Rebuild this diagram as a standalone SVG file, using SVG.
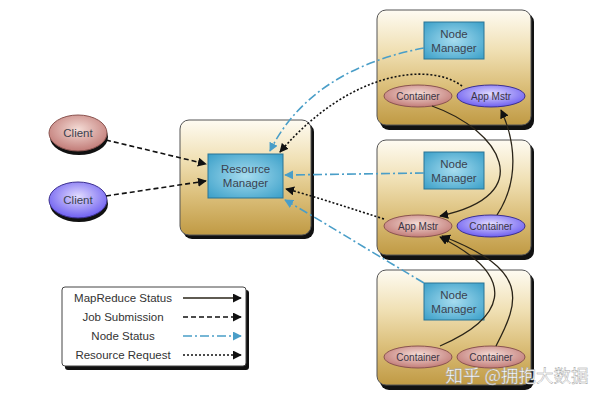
<svg xmlns="http://www.w3.org/2000/svg" width="600" height="400" viewBox="0 0 600 400">
<defs>
<linearGradient id="gBox" x1="0" y1="0" x2="0" y2="1">
<stop offset="0" stop-color="#fefbf2"/>
<stop offset="0.35" stop-color="#f0e0b4"/>
<stop offset="0.65" stop-color="#dcc07c"/>
<stop offset="1" stop-color="#c09a44"/>
</linearGradient>
<radialGradient id="gBlue" cx="0.5" cy="0.5" r="0.7">
<stop offset="0" stop-color="#a6dcef"/>
<stop offset="1" stop-color="#3a9fc8"/>
</radialGradient>
<radialGradient id="gPink" cx="0.5" cy="0.4" r="0.6">
<stop offset="0" stop-color="#f4dcd6"/>
<stop offset="1" stop-color="#c27c78"/>
</radialGradient>
<radialGradient id="gPurple" cx="0.5" cy="0.4" r="0.6">
<stop offset="0" stop-color="#e2dcff"/>
<stop offset="1" stop-color="#6e5ff0"/>
</radialGradient>
<marker id="aBlack" viewBox="0 0 10 10" refX="9" refY="5" markerWidth="9" markerHeight="9" markerUnits="userSpaceOnUse" orient="auto">
<path d="M0,0 L10,5 L0,10 z" fill="#111"/>
</marker>
<marker id="aBlue" viewBox="0 0 10 10" refX="9" refY="5" markerWidth="9" markerHeight="9" markerUnits="userSpaceOnUse" orient="auto">
<path d="M0,0 L10,5 L0,10 z" fill="#4a9ec8"/>
</marker>
</defs>
<style>
.box{fill:url(#gBox);stroke:#555;stroke-width:1}
.shadow{fill:#111}
.inner{fill:url(#gBlue);stroke:#2a7595;stroke-width:1}
.pink{fill:url(#gPink);stroke:#8a5450;stroke-width:1}
.purple{fill:url(#gPurple);stroke:#3c3090;stroke-width:1}
.t{font-family:"Liberation Sans",Arial,sans-serif;font-size:11.5px;fill:#3a4250;text-anchor:middle}
.ts{font-family:"Liberation Sans",Arial,sans-serif;font-size:10px;fill:#3a3444;text-anchor:middle}
.lg{font-family:"Liberation Sans",Arial,sans-serif;font-size:11.5px;fill:#333;text-anchor:middle}
.mr{fill:none;stroke:#2a2418;stroke-width:1.3;marker-end:url(#aBlack)}
.js{fill:none;stroke:#111;stroke-width:1.6;stroke-dasharray:5 3;marker-end:url(#aBlack)}
.ns{fill:none;stroke:#4a9ec8;stroke-width:1.6;stroke-dasharray:9 3 2 3;marker-end:url(#aBlue)}
.rr{fill:none;stroke:#111;stroke-width:1.6;stroke-dasharray:2 2;marker-end:url(#aBlack)}
</style>

<g id="client1">
<ellipse cx="79" cy="137" rx="29" ry="18" class="shadow"/>
<ellipse cx="78" cy="133" rx="29" ry="18" class="pink"/>
<text x="78" y="137" class="t">Client</text>
</g>
<g id="client2">
<ellipse cx="79" cy="204" rx="29" ry="18" class="shadow"/>
<ellipse cx="78" cy="200" rx="29" ry="18" class="purple"/>
<text x="78" y="204" class="t">Client</text>
</g>

<g id="resource-manager">
<rect x="183" y="123" width="131" height="116" rx="9" class="shadow"/>
<rect x="180" y="120" width="131" height="115" rx="9" class="box"/>
<rect x="208" y="154" width="75" height="44" class="inner"/>
<text x="245.5" y="173" class="t">Resource</text>
<text x="245.5" y="187" class="t">Manager</text>
</g>

<g id="node1">
<rect x="380" y="13" width="154" height="117" rx="9" class="shadow"/>
<rect x="377" y="10" width="154" height="115" rx="9" class="box"/>
<rect x="424" y="22" width="60" height="37" class="inner"/>
<text x="454" y="38" class="t">Node</text>
<text x="454" y="52" class="t">Manager</text>
<ellipse cx="418" cy="96" rx="34" ry="11" class="pink"/>
<text x="418" y="99.5" class="ts">Container</text>
<ellipse cx="491" cy="96" rx="34" ry="11" class="purple"/>
<text x="491" y="99.5" class="ts">App Mstr</text>
</g>

<g id="node2">
<rect x="380" y="143" width="154" height="117" rx="9" class="shadow"/>
<rect x="377" y="140" width="154" height="115" rx="9" class="box"/>
<rect x="424" y="152" width="60" height="37" class="inner"/>
<text x="454" y="168" class="t">Node</text>
<text x="454" y="182" class="t">Manager</text>
<ellipse cx="418" cy="226" rx="34" ry="11" class="pink"/>
<text x="418" y="229.5" class="ts">App Mstr</text>
<ellipse cx="491" cy="226" rx="34" ry="11" class="purple"/>
<text x="491" y="229.5" class="ts">Container</text>
</g>

<g id="node3">
<rect x="380" y="273" width="154" height="117" rx="9" class="shadow"/>
<rect x="377" y="270" width="154" height="115" rx="9" class="box"/>
<rect x="424" y="283" width="60" height="37" class="inner"/>
<text x="454" y="299" class="t">Node</text>
<text x="454" y="313" class="t">Manager</text>
<ellipse cx="418" cy="357" rx="34" ry="11" class="pink"/>
<text x="418" y="360.5" class="ts">Container</text>
<ellipse cx="491" cy="357" rx="34" ry="11" class="pink"/>
<text x="491" y="360.5" class="ts">Container</text>
</g>

<g id="connectors">
<path d="M106,140 L206,164" class="js"/>
<path d="M106,196 L206,181" class="js"/>
<path d="M424,48 C360,60 300,90 270,151" class="ns"/>
<path d="M424,173 L285,175" class="ns"/>
<path d="M424,283 C360,245 320,220 285,200" class="ns"/>
<path d="M462,86 C430,62 350,70 280,152" class="rr"/>
<path d="M384,219 C340,205 310,195 286,189" class="rr"/>
<path d="M432,106 C500,130 540,195 440,216" class="mr"/>
<path d="M497,215 C520,180 515,140 501,110" class="mr"/>
<path d="M440,346 C500,320 525,280 440,237" class="mr"/>
<path d="M496,346 C520,300 530,270 442,236" class="mr"/>
</g>

<g id="legend">
<rect x="65" y="290" width="184" height="80" rx="3" class="shadow"/>
<rect x="62" y="287" width="184" height="79" rx="3" fill="#fff" stroke="#444" stroke-width="1"/>
<text x="123" y="302" class="lg">MapReduce Status</text>
<text x="123" y="321" class="lg">Job Submission</text>
<text x="123" y="340" class="lg">Node Status</text>
<text x="123" y="359" class="lg">Resource Request</text>
<path d="M183,298 L241,298" class="mr"/>
<path d="M183,317 L241,317" class="js"/>
<path d="M183,336 L241,336" class="ns"/>
<path d="M183,355 L241,355" class="rr"/>
</g>

<text x="517" y="382" font-family="'Noto Sans CJK SC','Liberation Sans',sans-serif" font-size="17.5" fill="#fff" stroke="#999" stroke-width="0.4" text-anchor="middle">知乎 @拥抱大数据</text>
</svg>
